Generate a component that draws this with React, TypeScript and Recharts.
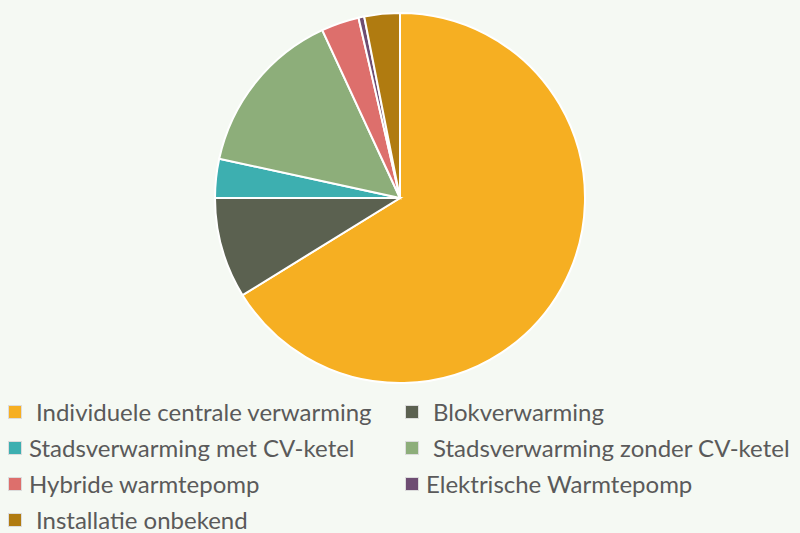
import { PieChart, Pie, Cell, Legend } from "recharts"

const categories = [
  "Individuele centrale verwarming",
  "Blokverwarming",
  "Stadsverwarming met CV-ketel",
  "Stadsverwarming zonder CV-ketel",
  "Hybride warmtepomp",
  "Elektrische Warmtepomp",
  "Installatie onbekend",
]
const shares = [66.2, 8.8, 3.4, 14.7, 3.3, 0.5, 3.1]
const colors = ["#F6AF22", "#5B6150", "#3DAFB0", "#8DAE7A", "#DD6F6C", "#6E4D72", "#B07B10"]
// some labels in the source carry a leading space
const leadingSpace = [true, true, false, true, false, false, true]

const data = categories.map((name, i) => ({ name, value: shares[i] }))

// legend runs in two columns, left to right
function renderLegend() {
  return (
    <div
      style={{
        display: "grid",
        gridTemplateColumns: "397px 395px",
        rowGap: 12,
        fontFamily: "Lato, 'Open Sans', sans-serif",
        fontSize: 24,
        lineHeight: "24px",
        color: "#5A5A5A",
      }}
    >
      {data.map((d, i) => (
        <div key={d.name} style={{ display: "flex", alignItems: "center", height: 24, whiteSpace: "nowrap" }}>
          <span
            style={{
              display: "inline-block",
              width: 12,
              height: 12,
              background: colors[i],
              border: "1px solid #dcdcdc",
              marginRight: leadingSpace[i] ? 14 : 7,
              flexShrink: 0,
            }}
          />
          <span>{d.name}</span>
        </div>
      ))}
    </div>
  )
}

export default function App() {
  return (
    <div style={{ position: "absolute", left: 0, top: 0, width: 800, height: 533, background: "#F5F9F3", overflow: "hidden" }}>
      <PieChart width={800} height={533} margin={{ top: 0, right: 0, bottom: 0, left: 0 }}>
        <Pie
          data={data}
          dataKey="value"
          nameKey="name"
          cx={400}
          cy={198}
          outerRadius={185}
          startAngle={90}
          endAngle={-270}
          stroke="#ffffff"
          strokeWidth={2}
          isAnimationActive={false}
        >
          {data.map((d, i) => (
            <Cell key={`cell-${i}`} fill={colors[i]} />
          ))}
        </Pie>
        <Legend
          content={renderLegend}
          wrapperStyle={{ position: "absolute", left: 8, top: 400, width: 795 }}
        />
      </PieChart>
    </div>
  )
}
